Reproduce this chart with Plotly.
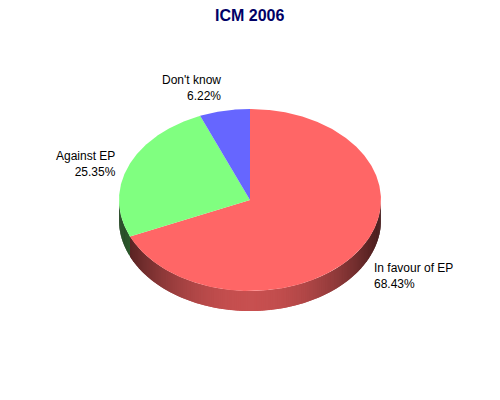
import math
import plotly.graph_objects as go

title = "ICM 2006"
categories = ["In favour of EP", "Against EP", "Don't know"]
values = [68.43, 25.35, 6.22]
colors = [(255, 102, 102), (128, 255, 128), (102, 102, 255)]

label_xy = [(371.5, 275.5), (118, 164), (223, 88)]
label_anchor = ["left", "right", "right"]

CX, CY, RX, RY, DEPTH = 250.0, 200.0, 131.0, 91.0, 20.0


def pt(deg, dy=0.0):
    a = math.radians(deg)
    return CX + RX * math.sin(a), CY - RY * math.cos(a) + dy


def rgb(c, k=1.0):
    return "rgb(%d,%d,%d)" % tuple(round(v * k) for v in c)


def shade(deg):
    # brightest at the front of the rim, darkening towards the sides
    return 0.27 + 0.51 * math.cos(math.radians(deg)) ** 2


fig = go.Figure()


def poly(xs, ys, color):
    fig.add_trace(go.Scatter(
        x=xs, y=ys, mode="lines", fill="toself", fillcolor=color,
        line=dict(width=0), hoverinfo="skip", showlegend=False))


total = sum(values)
start = 0.0
spans = []
for v in values:
    end = start + 360.0 * v / total
    spans.append((start, end))
    start = end

# rim: strips overlap the next one so no seams show
for (s, e), c in zip(spans, colors):
    lo, hi = max(s, 90.0), min(e, 270.0)
    d = lo
    while d < hi:
        n = min(d + 1.0, hi)
        m = min(n + 1.0, hi)
        p = [pt(d), pt(m), pt(m, DEPTH), pt(d, DEPTH), pt(d)]
        poly([q[0] for q in p], [q[1] for q in p], rgb(c, shade((d + n) / 2)))
        d = n

# top faces
for (s, e), c in zip(spans, colors):
    steps = max(2, int((e - s) * 2))
    p = [(CX, CY)] + [pt(s + (e - s) * i / steps) for i in range(steps + 1)] + [(CX, CY)]
    poly([q[0] for q in p], [q[1] for q in p], rgb(c))

annotations = [dict(
    x=x, y=y, xref="x", yref="y", text=f"{name}<br>{v:.2f}%", showarrow=False,
    xanchor=a, yanchor="middle", align=a,
    font=dict(family="Liberation Sans", size=12, color="#000000"))
    for (x, y), a, name, v in zip(label_xy, label_anchor, categories, values)]
annotations.append(dict(
    x=249.5, y=15, xref="x", yref="y", text=f"<b>{title}</b>", showarrow=False,
    xanchor="center", yanchor="middle",
    font=dict(family="Liberation Sans", size=16, color="#000066")))

fig.update_layout(
    width=500, height=400, margin=dict(l=0, r=0, t=0, b=0),
    paper_bgcolor="white", plot_bgcolor="white", showlegend=False,
    xaxis=dict(range=[0, 500], visible=False, fixedrange=True),
    yaxis=dict(range=[400, 0], visible=False, fixedrange=True),
    annotations=annotations)
fig.write_html("out.html", config=dict(displayModeBar=False),
               post_script="document.body.style.margin='0';document.documentElement.style.overflow='hidden';")
